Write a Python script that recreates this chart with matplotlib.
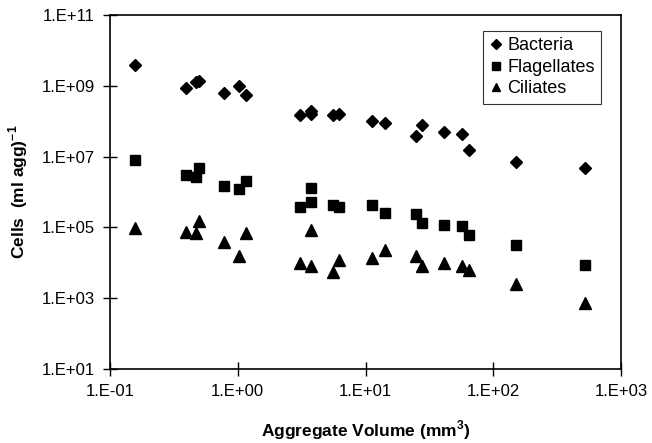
import math
import matplotlib.pyplot as plt
from matplotlib.ticker import FixedLocator, FuncFormatter, NullLocator

plt.rcParams['font.family'] = ['Liberation Sans', 'DejaVu Sans']

# aggregate volume (mm3)
bac_x = [0.157, 0.39, 0.47, 0.50, 0.776, 1.02, 1.16, 3.09, 3.77, 3.77, 5.6, 6.2,
         11.3, 14.2, 24.8, 27.5, 41.1, 56.9, 64.2, 150.7, 523]
bac_y = [4.0e9, 8.9e8, 1.26e9, 1.37e9, 6.1e8, 9.7e8, 5.5e8, 1.47e8, 1.94e8, 1.6e8, 1.47e8, 1.57e8,
         1.02e8, 9.1e7, 3.8e7, 7.8e7, 4.95e7, 4.27e7, 1.54e7, 6.9e6, 4.7e6]

fla_x = [0.157, 0.39, 0.47, 0.50, 0.776, 1.02, 1.16, 3.77, 3.77, 3.09, 5.6, 6.2,
         11.3, 14.2, 24.8, 27.5, 41.1, 56.9, 64.2, 150.7, 523]
fla_y = [7.9e6, 3.0e6, 2.65e6, 4.9e6, 1.5e6, 1.22e6, 2.0e6, 1.32e6, 5.1e5, 3.85e5, 4.4e5, 3.85e5,
         4.4e5, 2.55e5, 2.44e5, 1.36e5, 1.19e5, 1.1e5, 6.0e4, 3.1e4, 8.9e3]

cil_x = [0.157, 0.39, 0.47, 0.50, 0.776, 1.02, 1.16, 3.77, 3.09, 3.77, 5.6, 6.2,
         11.3, 14.2, 24.8, 27.5, 41.1, 56.9, 64.2, 150.7, 523]
cil_y = [9.8e4, 7.6e4, 6.8e4, 1.55e5, 3.8e4, 1.53e4, 6.8e4, 8.3e4, 9.7e3, 8.1e3, 5.4e3, 1.2e4,
         1.39e4, 2.25e4, 1.56e4, 8.3e3, 9.7e3, 8.3e3, 6.3e3, 2.5e3, 7.2e2]

xticks = [1e-1, 1e0, 1e1, 1e2, 1e3]
yticks = [1e1, 1e3, 1e5, 1e7, 1e9, 1e11]


def sci(v, pos):
    e = int(round(math.log10(v)))
    return '1.E%s%02d' % ('+' if e >= 0 else '-', abs(e))


fig = plt.figure(figsize=(6.52, 4.43), dpi=100)
ax = fig.add_axes([0.1687, 0.167, 0.7838, 0.799])

ax.plot(bac_x, bac_y, 'D', color='black', ms=6.5, label='Bacteria')
ax.plot(fla_x, fla_y, 's', color='black', ms=7, label='Flagellates')
ax.plot(cil_x, cil_y, '^', color='black', ms=8, label='Ciliates')

ax.set_xscale('log')
ax.set_yscale('log')
ax.set_xlim(1e-1, 1e3)
ax.set_ylim(1e1, 1e11)
ax.xaxis.set_major_locator(FixedLocator(xticks))
ax.yaxis.set_major_locator(FixedLocator(yticks))
ax.xaxis.set_minor_locator(NullLocator())
ax.yaxis.set_minor_locator(NullLocator())
ax.xaxis.set_major_formatter(FuncFormatter(sci))
ax.yaxis.set_major_formatter(FuncFormatter(sci))
ax.tick_params(direction='inout', length=10, width=1, labelsize=12, pad=6)

for s in ax.spines.values():
    s.set_linewidth(1.2)

ax.set_xlabel('Aggregate Volume (mm$^{\\mathregular{3}}$)', fontsize=12.5, fontweight='bold', labelpad=14)
ax.set_ylabel('Cells  (ml agg)$^{\\mathregular{-1}}$', fontsize=12.5, fontweight='bold', labelpad=8)

leg = ax.legend(loc='upper right', bbox_to_anchor=(0.961, 0.955), borderaxespad=0, fontsize=13,
                frameon=True, fancybox=False, edgecolor='black', handlelength=0.7, handletextpad=0.3,
                borderpad=0.35, labelspacing=0.25, markerscale=0.8)
leg.get_frame().set_linewidth(0.8)

fig.savefig('out.png', dpi=100)
